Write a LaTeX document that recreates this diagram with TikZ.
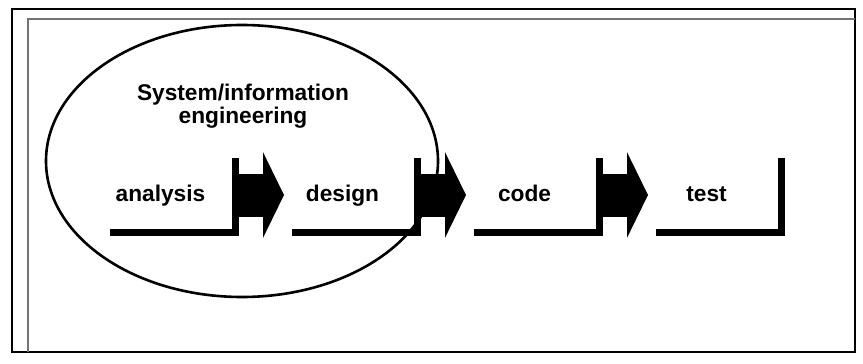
\documentclass[tikz,border=0pt]{standalone}
\usepackage{fontspec}
\setmainfont{Liberation Sans}
\usetikzlibrary{arrows.meta, positioning, shapes.geometric}

\begin{document}
\begin{tikzpicture}[x=1pt, y=-1pt,
    stagebox/.style={minimum width=125pt, minimum height=74pt,
      inner sep=0pt, outer sep=0pt},
    stagetext/.style={font=\fontsize{22.7}{25}\selectfont\bfseries,
      text height=16pt, text depth=4pt, xshift=-12pt},
    bracket/.style={line width=7pt},
    flow/.style={-{Triangle[length=21pt, width=85pt]},
      line width=43pt, shorten >=8pt},
    scopering/.style={draw, ellipse, line width=2.6pt,
      minimum width=392pt, minimum height=272pt},
    heading/.style={font=\fontsize{22.7}{22.5}\selectfont\bfseries,
      align=center},
]
\useasboundingbox (0,0) rectangle (863,364);
% Frame
\draw[line width=2pt] (12,9) rectangle (855,352);
\draw[line width=1.2pt, black!55] (28,352) -- (28,19) -- (855,19);
% Scope of system engineering
\node[scopering] (sysinfo) at (242,161) {};
\node[heading] (title) at (243,106) {System/information\\engineering};
% Stages
\node[stagebox, label={[stagetext]center:analysis}] (analysis) at (172.5,195) {};
\node[stagebox, right=57pt of analysis,
      label={[stagetext]center:design}] (design) {};
\node[stagebox, right=57pt of design,
      label={[stagetext]center:code}] (code) {};
\node[stagebox, right=57pt of code,
      label={[stagetext]center:test}] (test) {};
% Brackets
\draw[bracket] (analysis.south west) -- (analysis.south east) -- (analysis.north east);
\draw[bracket] (design.south west) -- (design.south east) -- (design.north east);
\draw[bracket] (code.south west) -- (code.south east) -- (code.north east);
\draw[bracket] (test.south west) -- (test.south east) -- (test.north east);
% Arrows
\draw[flow] ([xshift=3.5pt]analysis.east) -- (design.west);
\draw[flow] ([xshift=3.5pt]design.east) -- (code.west);
\draw[flow] ([xshift=3.5pt]code.east) -- (test.west);
\end{tikzpicture}
\end{document}
